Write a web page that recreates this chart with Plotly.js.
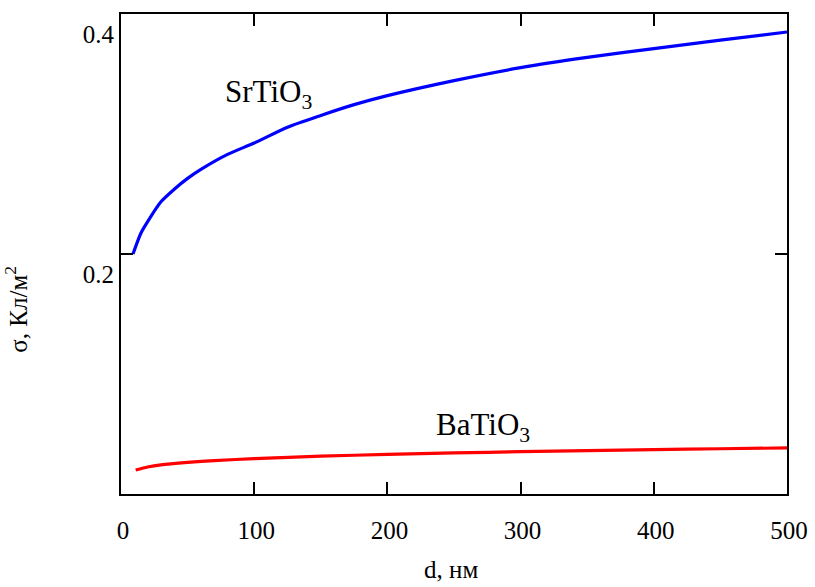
<!DOCTYPE html>
<html>
<head>
<meta charset="utf-8">
<script src="https://cdn.plot.ly/plotly-3.0.1.min.js"></script>
<style>html,body{margin:0;padding:0;background:#fff;}#chart{width:815px;height:587px;}</style>
</head>
<body>
<div id="chart"></div>
<script>
// Thickness d, nm
const dSr = [9, 15, 20, 30, 40, 50, 60, 80, 100, 125, 150, 175, 200, 250, 300, 350, 400, 450, 500];
// Surface charge sigma, C/m^2 (SrTiO3)
const sigmaSr = [0.200, 0.2175, 0.227, 0.2435, 0.2540, 0.2630, 0.2705, 0.2830, 0.2925, 0.3057, 0.3155, 0.3245, 0.3320, 0.3445, 0.3553, 0.3638, 0.3712, 0.3782, 0.3850];
const dBa = [11, 20, 30, 50, 70, 100, 150, 200, 250, 300, 350, 400, 450, 500];
// Surface charge sigma, C/m^2 (BaTiO3)
const sigmaBa = [0.0200, 0.0225, 0.0243, 0.0263, 0.0278, 0.0295, 0.0315, 0.0330, 0.0342, 0.0353, 0.0362, 0.0370, 0.0377, 0.0384];
const xTicks = [0, 100, 200, 300, 400, 500];
const xTickText = ['0', '100', '200', '300', '400', '500'];
const yTicks = [0.2, 0.4];
const yTickText = ['0.2', '0.4'];
const labelSr = 'SrTiO<sub>3</sub>';
const labelBa = 'BaTiO<sub>3</sub>';
const xTitle = 'd, нм';
const yTitle = 'σ, Кл/м<sup>2</sup>';

const FONT = 'Liberation Serif, Times New Roman, serif';

const traces = [
  {x: dSr, y: sigmaSr, type: 'scatter', mode: 'lines', line: {color: '#0000ff', width: 3.2, shape: 'spline', smoothing: 0.7}, hoverinfo: 'skip'},
  {x: dBa, y: sigmaBa, type: 'scatter', mode: 'lines', line: {color: '#ff0000', width: 3.2, shape: 'spline', smoothing: 0.7}, hoverinfo: 'skip'}
];

const axisCommon = {
  showgrid: false, zeroline: false, showline: true, linecolor: '#000', linewidth: 2,
  mirror: 'allticks', ticks: 'inside', ticklen: 12, tickwidth: 2, tickcolor: '#000',
  tickfont: {family: FONT, size: 25, color: '#000'}
};

const layout = {
  width: 815, height: 587,
  margin: {l: 121, r: 28, t: 14, b: 93},
  paper_bgcolor: '#fff', plot_bgcolor: '#fff',
  showlegend: false,
  font: {family: FONT, color: '#000'},
  xaxis: Object.assign({}, axisCommon, {
    range: [0, 500], tickmode: 'array', tickvals: xTicks, ticktext: xTickText,
    ticklabelstandoff: 13, ticklabelshift: 2
  }),
  yaxis: Object.assign({}, axisCommon, {
    range: [0, 0.4], tickmode: 'array', tickvals: yTicks, ticktext: yTickText,
    ticklabelshift: 20, ticklabelstandoff: 0
  }),
  annotations: [
    {text: labelSr, xref: 'x', yref: 'y', x: 111, y: 0.333, showarrow: false,
     font: {family: FONT, size: 31, color: '#000'}},
    {text: labelBa, xref: 'x', yref: 'y', x: 272, y: 0.056, showarrow: false,
     font: {family: FONT, size: 31, color: '#000'}},
    {text: xTitle, xref: 'paper', yref: 'paper', x: 0.496, y: -0.158, xanchor: 'center', yanchor: 'middle',
     showarrow: false, font: {family: FONT, size: 25, color: '#000'}},
    {text: yTitle, xref: 'paper', yref: 'paper', x: -0.157, y: 0.385, xanchor: 'center', yanchor: 'middle',
     textangle: -90, showarrow: false, font: {family: FONT, size: 25, color: '#000'}}
  ]
};

Plotly.newPlot('chart', traces, layout, {displayModeBar: false, staticPlot: true});
</script>
</body>
</html>
